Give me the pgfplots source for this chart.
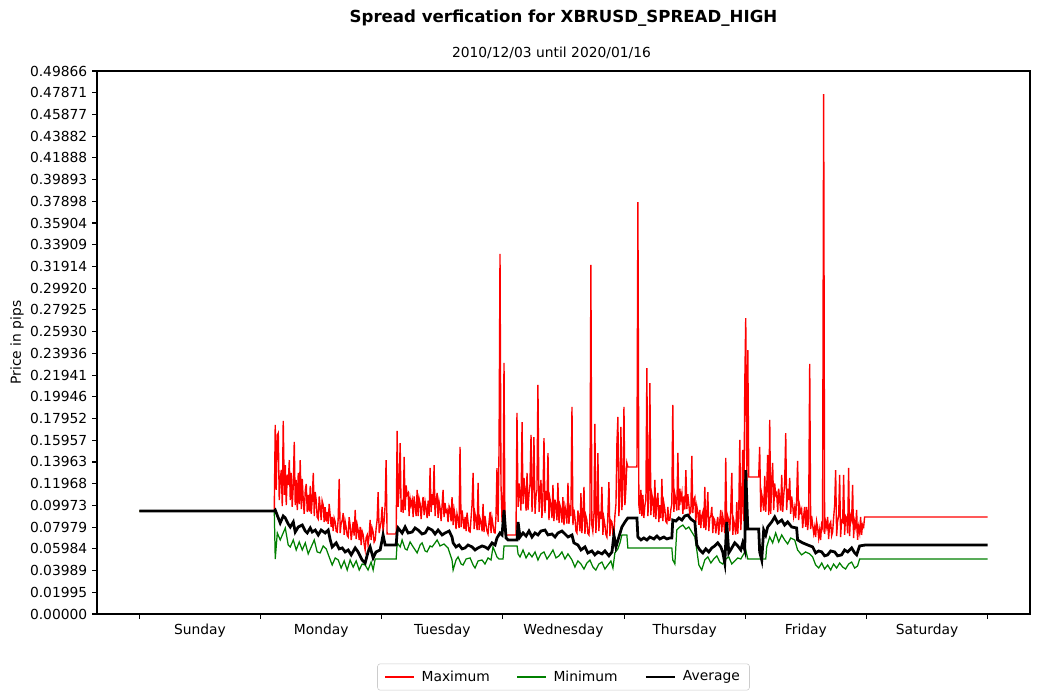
\documentclass[border=0pt]{standalone}
\usepackage{fontspec}
\setmainfont{DejaVu Sans}
\usepackage{pgfplots}
\pgfplotsset{compat=1.18}
\definecolor{mplgreen}{HTML}{008000}

\begin{document}
\begin{tikzpicture}
\useasboundingbox (-0.97in,-0.86in) rectangle (9.42in,6.14in);
\begin{axis}[
    at={(0,0)}, anchor=south west,
    scale only axis,
    width=9.33in, height=5.43in,
    xmin=-0.35, xmax=7.35,
    ymin=0, ymax=0.49866,
    axis line style={line width=0.8pt},
    tick align=outside,
    xtick pos=bottom, ytick pos=left,
    major tick length=3.5pt, minor tick length=3.5pt,
    tick style={black, line width=0.8pt},
    xtick={0.5,1.5,2.5,3.5,4.5,5.5,6.5},
    xticklabels={Sunday,Monday,Tuesday,Wednesday,Thursday,Friday,Saturday},
    minor xtick={0,1,2,3,4,5,6,7},
    major x tick style={draw=none},
    ytick={0,0.019946,0.039893,0.059839,0.079786,0.099732,0.119678,0.139625,0.159571,0.179518,0.199464,0.219410,0.239357,0.259303,0.279250,0.299196,0.319142,0.339089,0.359035,0.378982,0.398928,0.418874,0.438821,0.458767,0.478714,0.498660},
    yticklabels={0.00000,0.01995,0.03989,0.05984,0.07979,0.09973,0.11968,0.13963,0.15957,0.17952,0.19946,0.21941,0.23936,0.25930,0.27925,0.29920,0.31914,0.33909,0.35904,0.37898,0.39893,0.41888,0.43882,0.45877,0.47871,0.49866},
    tick label style={font=\fontsize{10}{12}\selectfont},
    ylabel={Price in pips},
    ylabel style={at={(axis description cs:-0.0857,0.5)}, anchor=center, font=\fontsize{10}{12}\selectfont},
    legend image code/.code={\draw[#1] (0in,0in) -- (0.29in,0in);},
    legend style={at={(0.5,-0.116)}, anchor=center, legend columns=3,
      draw=black!20, rounded corners=2pt, font=\fontsize{10}{12}\selectfont,
      inner ysep=3pt, inner xsep=5pt,
      /tikz/every odd column/.append style={column sep=0.04in},
      /tikz/every even column/.append style={column sep=0.24in}},
    legend cell align=left,
  ]
  % Maximum
  \addplot[red, line width=1pt] coordinates {
    (0,0.0946)(1.113,0.0946)
    (1.121,0.1736)(1.129,0.1140)(1.138,0.1644)(1.146,0.1662)(1.154,0.1047)(1.162,0.1230)(1.171,0.1322)(1.179,0.0990)(1.187,0.1773)(1.196,0.1093)
    (1.204,0.1368)(1.212,0.1001)(1.220,0.1280)(1.228,0.1185)(1.237,0.1414)(1.245,0.1047)(1.253,0.1295)(1.261,0.0983)(1.270,0.1180)(1.278,0.1580)
    (1.286,0.1001)(1.294,0.1231)(1.303,0.0955)(1.311,0.1295)(1.319,0.1010)(1.327,0.1414)(1.336,0.0964)(1.344,0.1240)(1.352,0.1050)(1.360,0.0919)
    (1.369,0.1139)(1.377,0.1194)(1.385,0.0937)(1.393,0.1093)(1.402,0.0940)(1.410,0.1176)(1.418,0.0919)(1.426,0.1050)(1.435,0.1295)(1.443,0.0900)
    (1.451,0.1120)(1.459,0.1047)(1.467,0.0890)(1.476,0.0872)(1.484,0.1080)(1.492,0.0983)(1.500,0.0863)(1.508,0.1040)(1.517,0.1001)(1.525,0.0845)
    (1.533,0.0980)(1.542,0.0850)(1.550,0.0937)(1.558,0.0827)(1.566,0.1010)(1.575,0.0900)(1.583,0.0800)(1.591,0.0891)(1.599,0.0762)(1.607,0.0880)
    (1.616,0.0845)(1.624,0.0760)(1.632,0.0753)(1.640,0.0860)(1.649,0.1240)(1.657,0.0744)(1.665,0.0830)(1.674,0.0863)(1.682,0.0927)(1.690,0.0726)
    (1.698,0.0850)(1.706,0.0799)(1.715,0.0720)(1.723,0.0707)(1.731,0.0890)(1.739,0.0817)(1.748,0.0680)(1.756,0.0760)(1.764,0.0845)(1.772,0.0720)
    (1.781,0.0955)(1.789,0.0689)(1.797,0.0820)(1.805,0.0771)(1.814,0.0680)(1.822,0.0799)(1.830,0.0634)(1.838,0.0760)(1.847,0.0726)(1.855,0.0640)
    (1.863,0.0588)(1.871,0.0700)(1.880,0.0726)(1.887,0.0634)(1.896,0.0720)(1.904,0.0863)(1.912,0.0680)(1.920,0.0790)(1.929,0.0753)(1.937,0.0660)
    (1.946,0.0680)(1.954,0.0790)(1.962,0.0863)(1.970,0.1120)(1.979,0.0744)(1.987,0.0800)(1.995,0.0845)(2.003,0.0983)(2.011,0.0753)(2.020,0.0860)
    (2.028,0.1001)(2.036,0.1414)(2.044,0.0735)(2.119,0.0735)
    (2.127,0.1681)(2.135,0.0983)(2.143,0.1150)(2.152,0.1570)(2.160,0.0937)(2.168,0.1047)(2.177,0.0930)(2.185,0.1442)(2.193,0.0955)(2.201,0.1180)
    (2.209,0.1093)(2.218,0.1111)(2.226,0.0900)(2.234,0.1060)(2.242,0.1001)(2.251,0.1047)(2.259,0.0891)(2.267,0.1080)(2.275,0.0983)(2.284,0.0900)
    (2.292,0.1139)(2.300,0.0900)(2.308,0.1060)(2.317,0.1010)(2.325,0.0872)(2.333,0.0990)(2.341,0.1074)(2.350,0.0909)(2.358,0.1030)(2.366,0.0974)
    (2.374,0.0882)(2.383,0.1040)(2.391,0.0900)(2.399,0.1341)(2.407,0.0937)(2.416,0.1100)(2.424,0.1001)(2.432,0.1368)(2.440,0.0900)(2.448,0.1040)
    (2.457,0.1111)(2.465,0.0882)(2.473,0.1030)(2.481,0.0974)(2.490,0.0854)(2.498,0.1000)(2.506,0.1139)(2.514,0.0891)(2.522,0.1020)(2.531,0.0937)
    (2.539,0.0955)(2.547,0.0845)(2.556,0.0990)(2.564,0.0964)(2.572,0.0850)(2.580,0.1074)(2.589,0.0817)(2.597,0.0960)(2.605,0.0900)(2.613,0.0780)
    (2.621,0.0920)(2.630,0.0863)(2.638,0.0790)(2.646,0.1534)(2.655,0.0799)(2.663,0.0950)(2.671,0.0872)(2.679,0.0780)(2.688,0.0891)(2.696,0.0762)
    (2.704,0.0930)(2.712,0.0845)(2.720,0.0760)(2.729,0.0753)(2.737,0.0880)(2.745,0.1001)(2.754,0.1295)(2.762,0.0780)(2.770,0.0920)(2.779,0.0863)
    (2.787,0.0770)(2.795,0.1203)(2.803,0.0771)(2.811,0.0880)(2.820,0.0845)(2.828,0.0760)(2.836,0.1010)(2.844,0.0753)(2.852,0.0900)(2.861,0.0817)
    (2.869,0.0760)(2.877,0.0735)(2.886,0.0850)(2.894,0.0937)(2.902,0.0744)(2.910,0.0880)(2.918,0.0817)(2.927,0.0750)(2.935,0.0744)(2.943,0.0900)
    (2.951,0.1340)(2.960,0.0845)(2.968,0.1515)(2.976,0.3306)(2.984,0.1194)(2.993,0.0845)(3.001,0.0900)(3.009,0.2305)(3.017,0.0753)(3.026,0.0726)
    (3.108,0.0726)
    (3.116,0.1846)(3.125,0.0983)(3.133,0.1200)(3.141,0.1093)(3.149,0.0950)(3.158,0.1763)(3.166,0.1010)(3.174,0.1250)(3.182,0.1139)(3.191,0.0950)
    (3.199,0.1295)(3.207,0.0955)(3.215,0.1100)(3.223,0.1185)(3.232,0.1644)(3.240,0.0937)(3.248,0.1150)(3.256,0.1625)(3.265,0.0919)(3.273,0.1080)
    (3.281,0.1139)(3.289,0.2103)(3.298,0.0937)(3.306,0.1080)(3.314,0.1231)(3.322,0.0882)(3.330,0.1050)(3.339,0.1616)(3.347,0.0927)(3.355,0.1130)
    (3.364,0.1047)(3.372,0.1478)(3.380,0.0863)(3.388,0.1060)(3.397,0.1001)(3.405,0.0880)(3.413,0.1185)(3.421,0.0854)(3.430,0.1050)(3.438,0.0983)
    (3.446,0.0860)(3.454,0.1203)(3.463,0.0836)(3.471,0.1000)(3.479,0.0964)(3.487,0.0840)(3.495,0.1074)(3.504,0.0817)(3.512,0.0990)(3.520,0.0937)
    (3.528,0.0830)(3.537,0.1203)(3.545,0.0827)(3.553,0.0960)(3.561,0.0900)(3.570,0.1901)(3.578,0.0817)(3.586,0.0960)(3.594,0.0891)(3.603,0.0760)
    (3.611,0.0744)(3.619,0.0950)(3.627,0.0882)(3.636,0.0760)(3.644,0.1111)(3.652,0.0744)(3.660,0.0900)(3.669,0.1167)(3.677,0.0735)(3.685,0.0900)
    (3.693,0.0863)(3.701,0.0740)(3.710,0.0726)(3.718,0.0870)(3.726,0.3205)(3.734,0.0817)(3.742,0.0760)(3.751,0.0900)(3.759,0.1745)(3.767,0.0744)
    (3.775,0.0880)(3.784,0.1478)(3.792,0.0762)(3.800,0.0940)(3.809,0.0872)(3.817,0.1167)(3.825,0.0726)(3.833,0.0880)(3.842,0.0817)(3.850,0.0730)
    (3.858,0.0707)(3.866,0.0900)(3.875,0.1212)(3.883,0.0716)(3.891,0.0860)(3.900,0.0845)(3.908,0.0730)(3.916,0.0735)(3.924,0.0900)(3.933,0.1010)
    (3.941,0.1570)(3.949,0.1809)(3.957,0.0900)(3.966,0.1100)(3.974,0.1718)(3.982,0.0955)(3.990,0.1150)(3.999,0.1901)(4.007,0.1001)(4.015,0.1150)
    (4.023,0.1387)(4.031,0.1350)(4.106,0.1350)
    (4.114,0.3783)(4.122,0.1001)(4.130,0.0920)(4.139,0.1139)(4.147,0.0900)(4.155,0.1093)(4.163,0.0882)(4.172,0.1000)(4.180,0.1047)(4.188,0.2259)
    (4.196,0.0900)(4.204,0.1050)(4.213,0.2121)(4.221,0.0909)(4.229,0.1100)(4.237,0.1047)(4.246,0.0890)(4.254,0.1231)(4.262,0.0872)(4.271,0.1040)
    (4.279,0.1111)(4.287,0.0845)(4.295,0.1000)(4.304,0.0880)(4.312,0.1240)(4.320,0.0854)(4.328,0.1020)(4.336,0.0964)(4.345,0.0850)(4.353,0.0836)
    (4.361,0.0983)(4.369,0.0860)(4.378,0.0863)(4.386,0.0960)(4.394,0.1010)(4.402,0.1920)(4.411,0.0937)(4.419,0.1100)(4.427,0.1047)(4.435,0.0950)
    (4.444,0.1480)(4.452,0.0955)(4.460,0.1150)(4.468,0.1047)(4.477,0.1111)(4.485,0.0919)(4.493,0.1080)(4.501,0.0960)(4.510,0.1322)(4.518,0.0964)
    (4.526,0.1100)(4.534,0.1010)(4.542,0.0920)(4.551,0.0937)(4.559,0.1451)(4.567,0.0927)(4.575,0.1050)(4.584,0.1074)(4.592,0.0845)(4.600,0.0990)
    (4.608,0.0937)(4.617,0.0820)(4.625,0.0955)(4.633,0.0790)(4.641,0.0900)(4.650,0.0937)(4.658,0.0790)(4.666,0.1167)(4.674,0.0771)(4.682,0.0900)
    (4.691,0.1120)(4.699,0.0762)(4.707,0.0880)(4.716,0.0900)(4.724,0.0983)(4.732,0.0744)(4.740,0.0880)(4.748,0.0863)(4.757,0.0740)(4.765,0.0830)
    (4.773,0.0891)(4.781,0.0726)(4.790,0.0860)(4.798,0.0955)(4.806,0.0753)(4.814,0.0900)(4.822,0.0845)(4.831,0.0740)(4.839,0.1433)(4.847,0.0744)
    (4.855,0.0900)(4.864,0.0863)(4.872,0.0760)(4.880,0.0950)(4.889,0.1295)(4.897,0.0726)(4.905,0.0860)(4.913,0.0817)(4.921,0.0730)(4.930,0.1028)
    (4.938,0.0735)(4.946,0.0900)(4.955,0.1598)(4.963,0.0771)(4.971,0.0950)(4.979,0.1506)(4.988,0.0854)(4.996,0.2103)(5.004,0.2718)(5.013,0.1222)
    (5.021,0.2424)(5.029,0.1258)(5.111,0.1258)
    (5.119,0.1534)(5.128,0.0937)(5.136,0.1100)(5.144,0.1047)(5.152,0.0950)(5.161,0.1268)(5.169,0.0937)(5.177,0.1150)(5.185,0.1460)(5.194,0.0909)
    (5.202,0.1782)(5.210,0.0919)(5.218,0.1200)(5.226,0.1387)(5.235,0.0955)(5.243,0.1200)(5.251,0.1093)(5.259,0.1111)(5.268,0.0937)(5.276,0.1150)
    (5.284,0.1047)(5.292,0.0950)(5.301,0.1277)(5.309,0.0937)(5.317,0.1080)(5.325,0.1194)(5.334,0.1662)(5.342,0.0955)(5.350,0.1150)(5.358,0.1047)
    (5.367,0.1249)(5.375,0.0919)(5.383,0.1080)(5.391,0.1001)(5.399,0.0900)(5.408,0.0974)(5.416,0.0882)(5.424,0.1050)(5.432,0.1405)(5.441,0.0863)
    (5.449,0.0990)(5.457,0.0937)(5.465,0.0964)(5.474,0.0790)(5.482,0.0900)(5.490,0.0983)(5.498,0.0800)(5.507,0.0983)(5.515,0.0771)(5.523,0.0880)
    (5.532,0.2296)(5.540,0.0780)(5.548,0.0900)(5.556,0.0817)(5.565,0.0740)(5.573,0.0799)(5.581,0.0707)(5.589,0.0850)(5.597,0.0799)(5.606,0.0700)
    (5.614,0.0771)(5.622,0.0680)(5.630,0.0820)(5.638,0.0790)(5.647,0.4775)(5.655,0.0735)(5.663,0.0850)(5.672,0.0799)(5.680,0.0891)(5.688,0.0689)
    (5.696,0.0820)(5.705,0.0845)(5.713,0.0720)(5.721,0.0753)(5.729,0.0880)(5.738,0.1001)(5.746,0.1322)(5.754,0.0716)(5.762,0.0850)(5.771,0.0900)
    (5.779,0.1277)(5.787,0.0707)(5.795,0.0860)(5.804,0.0845)(5.812,0.1277)(5.820,0.0726)(5.828,0.0900)(5.837,0.0882)(5.845,0.0740)(5.853,0.1341)
    (5.861,0.0716)(5.869,0.0900)(5.878,0.0863)(5.886,0.1185)(5.894,0.0698)(5.902,0.0850)(5.911,0.0799)(5.919,0.0955)(5.927,0.0680)(5.935,0.0800)
    (5.944,0.0745)(5.952,0.0891)(5.960,0.0726)(5.968,0.0820)(5.977,0.0799)(5.985,0.0891)(7.000,0.0891)
  };
  \addlegendentry{Maximum}
  % Minimum
  \addplot[mplgreen, line width=0.9pt] coordinates {
    (0,0.0946)(1.113,0.0946)
    (1.121,0.0505)(1.138,0.0744)(1.162,0.0680)(1.204,0.0790)(1.228,0.0634)(1.245,0.0616)(1.270,0.0680)(1.294,0.0588)(1.319,0.0662)(1.344,0.0588)
    (1.369,0.0653)(1.393,0.0552)(1.418,0.0616)(1.443,0.0680)(1.467,0.0570)(1.492,0.0561)(1.517,0.0625)(1.542,0.0598)(1.566,0.0524)(1.591,0.0450)
    (1.616,0.0515)(1.641,0.0496)(1.665,0.0422)(1.690,0.0487)(1.715,0.0404)(1.739,0.0496)(1.764,0.0431)(1.789,0.0487)(1.814,0.0404)(1.838,0.0459)
    (1.863,0.0450)(1.887,0.0404)(1.912,0.0477)(1.929,0.0404)(1.946,0.0505)(2.119,0.0505)
    (2.127,0.0653)(2.152,0.0616)(2.168,0.0680)(2.193,0.0598)(2.209,0.0588)(2.234,0.0662)(2.259,0.0616)(2.292,0.0561)(2.317,0.0634)(2.333,0.0653)
    (2.358,0.0579)(2.374,0.0570)(2.399,0.0625)(2.416,0.0616)(2.440,0.0653)(2.457,0.0680)(2.481,0.0625)(2.514,0.0643)(2.547,0.0607)(2.580,0.0496)
    (2.589,0.0404)(2.613,0.0496)(2.630,0.0524)(2.655,0.0459)(2.671,0.0450)(2.696,0.0505)(2.729,0.0515)(2.754,0.0450)(2.770,0.0422)(2.795,0.0487)
    (2.828,0.0496)(2.852,0.0459)(2.877,0.0515)(2.902,0.0496)(2.918,0.0616)(2.935,0.0570)(2.951,0.0524)(2.968,0.0505)(3.001,0.0505)(3.009,0.0625)
    (3.117,0.0625)
    (3.125,0.0552)(3.141,0.0524)(3.166,0.0588)(3.191,0.0515)(3.215,0.0561)(3.240,0.0524)(3.265,0.0570)(3.289,0.0496)(3.314,0.0552)(3.339,0.0570)
    (3.364,0.0505)(3.388,0.0543)(3.413,0.0588)(3.438,0.0515)(3.463,0.0534)(3.487,0.0570)(3.512,0.0505)(3.537,0.0552)(3.570,0.0496)(3.594,0.0431)
    (3.619,0.0487)(3.644,0.0459)(3.669,0.0413)(3.693,0.0468)(3.718,0.0496)(3.743,0.0431)(3.767,0.0404)(3.792,0.0459)(3.817,0.0477)(3.842,0.0413)
    (3.866,0.0450)(3.891,0.0487)(3.908,0.0422)(3.924,0.0561)(3.949,0.0598)(3.966,0.0653)(3.982,0.0726)(4.023,0.0726)(4.031,0.0607)(4.394,0.0607)
    (4.402,0.0496)(4.419,0.0459)(4.435,0.0771)(4.460,0.0799)(4.485,0.0817)(4.510,0.0780)(4.534,0.0799)(4.559,0.0753)(4.584,0.0707)(4.600,0.0588)
    (4.617,0.0450)(4.641,0.0404)(4.666,0.0496)(4.691,0.0524)(4.716,0.0468)(4.740,0.0505)(4.765,0.0534)(4.790,0.0477)(4.814,0.0459)(4.839,0.0505)
    (4.864,0.0524)(4.889,0.0459)(4.913,0.0487)(4.938,0.0515)(4.963,0.0505)(4.988,0.0552)(5.004,0.0588)(5.021,0.0505)(5.169,0.0505)
    (5.177,0.0616)(5.202,0.0707)(5.226,0.0653)(5.251,0.0744)(5.276,0.0662)(5.301,0.0726)(5.325,0.0680)(5.350,0.0643)(5.375,0.0698)(5.408,0.0680)
    (5.432,0.0588)(5.465,0.0543)(5.498,0.0570)(5.532,0.0552)(5.556,0.0524)(5.581,0.0450)(5.606,0.0422)(5.631,0.0468)(5.655,0.0413)(5.680,0.0450)
    (5.705,0.0404)(5.729,0.0459)(5.754,0.0422)(5.779,0.0468)(5.804,0.0431)(5.828,0.0413)(5.853,0.0459)(5.878,0.0477)(5.903,0.0422)(5.927,0.0441)
    (5.944,0.0505)(7.000,0.0505)
  };
  \addlegendentry{Minimum}
  % Average
  \addplot[black, line width=2pt] coordinates {
    (0,0.0946)(1.113,0.0946)
    (1.121,0.0955)(1.162,0.0836)(1.187,0.0900)(1.204,0.0882)(1.228,0.0827)(1.245,0.0799)(1.270,0.0845)(1.286,0.0753)(1.311,0.0799)(1.344,0.0817)
    (1.369,0.0762)(1.385,0.0744)(1.410,0.0790)(1.426,0.0753)(1.451,0.0771)(1.476,0.0726)(1.500,0.0771)(1.533,0.0744)(1.558,0.0771)(1.575,0.0680)
    (1.591,0.0616)(1.624,0.0653)(1.649,0.0598)(1.674,0.0607)(1.698,0.0570)(1.723,0.0588)(1.748,0.0543)(1.781,0.0607)(1.805,0.0570)(1.838,0.0496)
    (1.863,0.0468)(1.887,0.0570)(1.904,0.0616)(1.929,0.0515)(1.953,0.0570)(1.987,0.0588)(2.011,0.0726)(2.028,0.0634)(2.119,0.0634)
    (2.127,0.0753)(2.135,0.0790)(2.168,0.0744)(2.193,0.0799)(2.218,0.0744)(2.251,0.0753)(2.275,0.0790)(2.300,0.0771)(2.333,0.0735)(2.358,0.0744)
    (2.383,0.0790)(2.416,0.0771)(2.440,0.0735)(2.465,0.0771)(2.498,0.0726)(2.523,0.0744)(2.556,0.0762)(2.580,0.0707)(2.589,0.0653)(2.613,0.0616)
    (2.638,0.0634)(2.663,0.0598)(2.688,0.0607)(2.712,0.0634)(2.745,0.0616)(2.770,0.0588)(2.795,0.0607)(2.828,0.0625)(2.852,0.0616)(2.877,0.0598)
    (2.910,0.0653)(2.935,0.0634)(2.951,0.0698)(2.976,0.0744)(2.993,0.0726)(3.009,0.0955)(3.026,0.0698)(3.042,0.0680)(3.117,0.0680)
    (3.125,0.0845)(3.141,0.0707)(3.166,0.0744)(3.191,0.0716)(3.215,0.0762)(3.240,0.0707)(3.265,0.0744)(3.289,0.0726)(3.314,0.0762)(3.347,0.0771)
    (3.372,0.0726)(3.405,0.0735)(3.430,0.0707)(3.454,0.0744)(3.487,0.0762)(3.512,0.0735)(3.537,0.0707)(3.570,0.0726)(3.586,0.0653)(3.619,0.0634)
    (3.644,0.0588)(3.677,0.0616)(3.701,0.0561)(3.734,0.0579)(3.759,0.0543)(3.784,0.0570)(3.817,0.0552)(3.842,0.0579)(3.875,0.0534)(3.900,0.0570)
    (3.916,0.0726)(3.933,0.0616)(3.957,0.0707)(3.982,0.0799)(4.007,0.0845)(4.031,0.0882)(4.106,0.0882)
    (4.114,0.0707)(4.139,0.0680)(4.163,0.0698)(4.188,0.0680)(4.213,0.0707)(4.246,0.0689)(4.271,0.0716)(4.295,0.0689)(4.328,0.0707)(4.353,0.0689)
    (4.378,0.0698)(4.394,0.0698)(4.402,0.0863)(4.427,0.0854)(4.452,0.0882)(4.477,0.0863)(4.501,0.0900)(4.526,0.0909)(4.551,0.0872)(4.584,0.0845)
    (4.600,0.0634)(4.625,0.0588)(4.650,0.0561)(4.674,0.0598)(4.699,0.0570)(4.724,0.0607)(4.748,0.0625)(4.773,0.0653)(4.798,0.0616)(4.814,0.0570)
    (4.831,0.0468)(4.847,0.0845)(4.864,0.0561)(4.889,0.0607)(4.913,0.0653)(4.938,0.0625)(4.963,0.0588)(4.979,0.0653)(4.996,0.0588)(5.004,0.1322)
    (5.021,0.0780)(5.111,0.0780)
    (5.119,0.0570)(5.136,0.0496)(5.152,0.0771)(5.169,0.0726)(5.185,0.0799)(5.218,0.0845)(5.243,0.0891)(5.268,0.0836)(5.301,0.0863)(5.325,0.0817)
    (5.350,0.0845)(5.383,0.0799)(5.424,0.0790)(5.432,0.0680)(5.474,0.0653)(5.515,0.0634)(5.556,0.0616)(5.581,0.0561)(5.606,0.0579)(5.631,0.0570)
    (5.655,0.0534)(5.680,0.0543)(5.705,0.0579)(5.738,0.0570)(5.762,0.0534)(5.795,0.0543)(5.820,0.0588)(5.845,0.0570)(5.878,0.0607)(5.903,0.0561)
    (5.919,0.0543)(5.944,0.0625)(5.993,0.0634)(7.000,0.0634)
  };
  \addlegendentry{Average}
\end{axis}
\node[font=\bfseries\fontsize{12}{14}\selectfont] at (4.665in,5.96in) {Spread verfication for XBRUSD\_SPREAD\_HIGH};
\node[font=\fontsize{10}{12}\selectfont] at (4.545in,5.61in) {2010/12/03 until 2020/01/16};
\end{tikzpicture}
\end{document}
